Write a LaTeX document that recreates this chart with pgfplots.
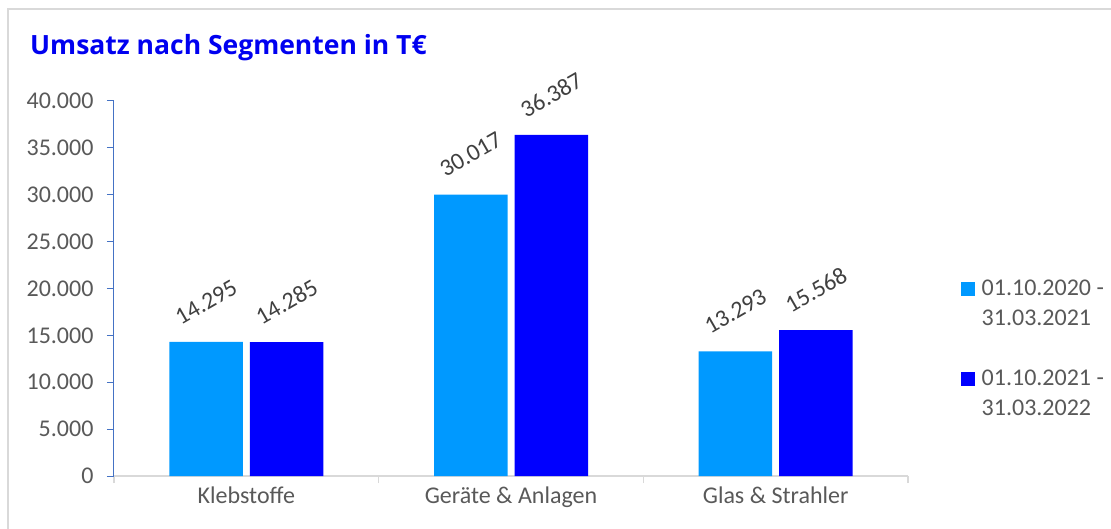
\documentclass[border=0pt]{standalone}
\usepackage{fontspec}
\setmainfont{Carlito}
\newfontfamily\titlefont{Open Sans}
\usepackage{pgfplots}
\pgfplotsset{compat=1.18}
\definecolor{lblue}{HTML}{0099FF}
\definecolor{dblue}{HTML}{0000FF}
\definecolor{yax}{HTML}{4472C4}
\definecolor{ticktext}{HTML}{595959}
\definecolor{labtext}{HTML}{404040}
\definecolor{framec}{HTML}{D9D9D9}
\definecolor{titleblue}{HTML}{0000F0}
\newcommand{\fsz}{\fontsize{24}{30}\selectfont}
\begin{document}
\begin{tikzpicture}
\begin{axis}[
  scale only axis, width=794pt, height=375pt,
  ybar=7pt, bar width=73.5pt,
  xmin=-0.5, xmax=2.5, ymin=0, ymax=40000,
  axis x line=bottom, axis y line=left,
  axis line style={-},
  x axis line style={draw=framec, line width=1.2pt},
  y axis line style={draw=yax, line width=1pt},
  xtick={0,1,2},
  xticklabels={Klebstoffe, Geräte \& Anlagen, Glas \& Strahler},
  minor xtick={-0.5,0.5,1.5,2.5},
  major x tick style={draw=none},
  minor x tick style={draw=framec, line width=1.2pt},
  ytick={0,5000,...,40000},
  y tick style={draw=yax, line width=1pt},
  tick align=outside, major tick length=7pt, minor tick length=7pt,
  scaled y ticks=false,
  /pgf/number format/.cd, 1000 sep={.}, assume math mode=true, /pgfplots/.cd,
  yticklabel style={font=\fsz, text=ticktext, xshift=-10pt},
  xticklabel style={font=\fsz, text=ticktext},
  nodes near coords={\pgfmathprintnumber[fixed,precision=0,1000 sep={.},assume math mode=true]{\pgfplotspointmeta}},
  every node near coord/.append style={font=\fsz, text=labtext, yshift=40pt, rotate=30, anchor=center},
  legend style={draw=none, fill=none, at={(rel axis cs:1,0.339)}, anchor=west, xshift=53pt,
    font=\fsz, text=ticktext, cells={align=left}, row sep=39pt, inner sep=0pt},
  legend image code/.code={\fill[#1] (0pt,8.25pt) rectangle (13.5pt,21.75pt); \path (18.5pt,0pt);},
]
\addplot[fill=lblue, draw=none] coordinates {(0,14295) (1,30017) (2,13293)};
\addplot[fill=dblue, draw=none] coordinates {(0,14285) (1,36387) (2,15568)};
\legend{{01.10.2020 -\\31.03.2021},{01.10.2021 -\\31.03.2022}}
\end{axis}
\node[anchor=base west, font=\titlefont\bfseries\fontsize{26.5}{30}\selectfont, text=titleblue, inner sep=0pt] at (-84pt,421pt) {Umsatz nach Segmenten in T€};
\draw[framec, line width=1.5pt] (-106pt,-60pt) -- (-106pt,467pt) -- (1010pt,467pt);
\pgfresetboundingbox
\path[use as bounding box] (-114pt,-52pt) rectangle (997pt,476pt);
\end{tikzpicture}
\end{document}
